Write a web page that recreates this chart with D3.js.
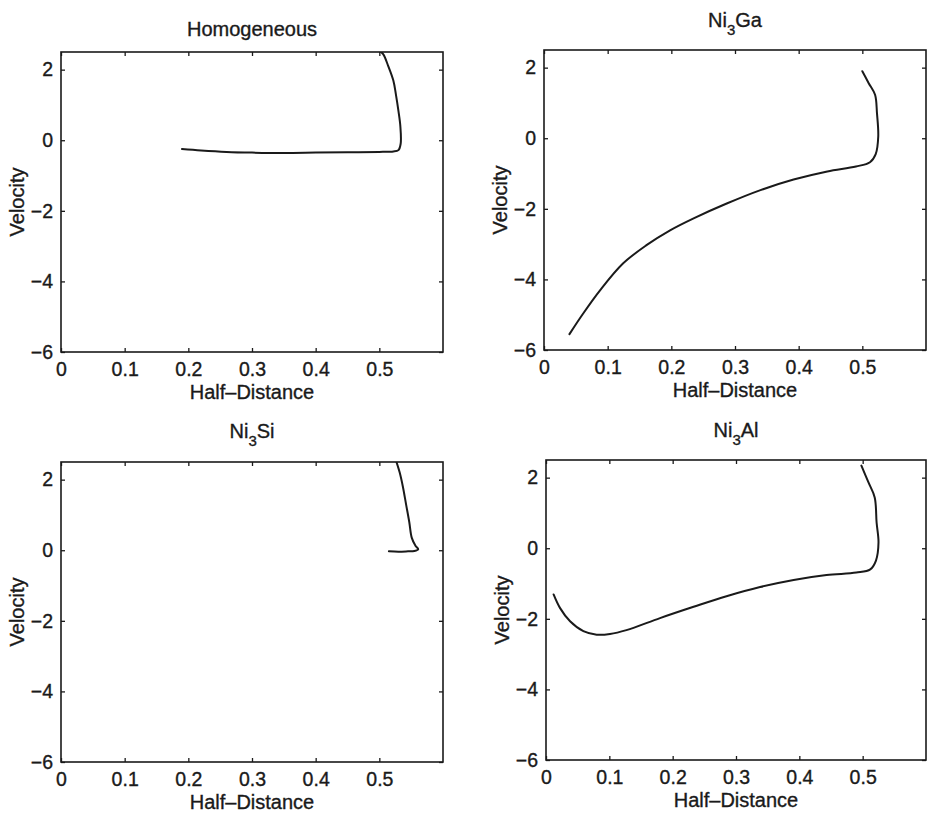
<!DOCTYPE html>
<html>
<head>
<meta charset="utf-8">
<script src="https://cdn.jsdelivr.net/npm/d3@7"></script>
<style>
  html, body { margin: 0; padding: 0; background: #fff; }
  svg { display: block; font-family: "Liberation Sans", Arial, Helvetica, sans-serif; }
</style>
</head>
<body>
<svg id="chart" width="927" height="814"></svg>
<script>
// ---------- data ----------
const xTicks = [0, 0.1, 0.2, 0.3, 0.4, 0.5];
const yTicks = [-6, -4, -2, 0, 2];
const xDomain = [0, 0.6];
const yDomain = [-6, 2.5];
const xLabel = "Half\u2013Distance";
const yLabel = "Velocity";

const homogeneousX = [0.19, 0.22, 0.26, 0.30, 0.35, 0.40, 0.45, 0.50, 0.522, 0.530, 0.5335, 0.533, 0.530, 0.526, 0.522, 0.514, 0.506, 0.499];
const homogeneousV = [-0.25, -0.29, -0.33, -0.35, -0.36, -0.35, -0.34, -0.33, -0.32, -0.28, -0.10, 0.40, 0.83, 1.30, 1.69, 2.10, 2.44, 2.55];

const ni3GaX = [0.040, 0.061, 0.088, 0.124, 0.161, 0.198, 0.235, 0.287, 0.340, 0.392, 0.445, 0.490, 0.512, 0.521, 0.525, 0.523, 0.520, 0.510, 0.500];
const ni3GaV = [-5.55, -4.98, -4.31, -3.55, -3.03, -2.61, -2.27, -1.85, -1.47, -1.17, -0.94, -0.80, -0.68, -0.45, 0.05, 0.71, 1.23, 1.56, 1.90];

const ni3SiX = [0.515, 0.530, 0.545, 0.555, 0.561, 0.557, 0.551, 0.547, 0.542, 0.537, 0.532, 0.526];
const ni3SiV = [-0.03, -0.04, -0.03, -0.02, 0.03, 0.12, 0.35, 0.80, 1.30, 1.80, 2.20, 2.55];

const ni3AlX = [0.012, 0.022, 0.038, 0.059, 0.080, 0.101, 0.127, 0.180, 0.233, 0.285, 0.338, 0.391, 0.443, 0.490, 0.512, 0.521, 0.525, 0.522, 0.519, 0.509, 0.498];
const ni3AlV = [-1.31, -1.69, -2.07, -2.35, -2.45, -2.43, -2.32, -1.98, -1.66, -1.36, -1.10, -0.90, -0.76, -0.69, -0.60, -0.35, 0.16, 0.73, 1.44, 1.87, 2.34];

// titles: [main, subscript, rest]
const titles = [
  ["Homogeneous", "", ""],
  ["Ni", "3", "Ga"],
  ["Ni", "3", "Si"],
  ["Ni", "3", "Al"]
];
const seriesX = [homogeneousX, ni3GaX, ni3SiX, ni3AlX];
const seriesV = [homogeneousV, ni3GaV, ni3SiV, ni3AlV];

// ---------- layout ----------
const layout = [
  { left: 61,  right: 443, top: 52,  bottom: 352, titleDy: 16 },
  { left: 544, right: 926, top: 50,  bottom: 350, titleDy: 23 },
  { left: 61,  right: 443, top: 462, bottom: 762, titleDy: 24 },
  { left: 546, right: 926, top: 460, bottom: 760, titleDy: 23 }
];

const svg = d3.select("#chart");
const ink = "#1a1a1a";
const tickLen = 4;
const textStroke = 0.35;

layout.forEach((L, i) => {
  const x = d3.scaleLinear().domain(xDomain).range([L.left, L.right]);
  const y = d3.scaleLinear().domain(yDomain).range([L.bottom, L.top]);
  const g = svg.append("g");
  const clipId = "clip" + i;
  svg.append("clipPath").attr("id", clipId)
    .append("rect").attr("x", L.left).attr("y", L.top)
    .attr("width", L.right - L.left).attr("height", L.bottom - L.top);

  // axes with inward ticks
  const axB = d3.axisBottom(x).tickValues(xTicks).tickSizeInner(-tickLen).tickSizeOuter(0)
    .tickPadding(10).tickFormat(d3.format("~g"));
  const axT = d3.axisTop(x).tickValues(xTicks).tickSizeInner(-tickLen).tickSizeOuter(0).tickFormat("");
  const axL = d3.axisLeft(y).tickValues(yTicks).tickSizeInner(-tickLen).tickSizeOuter(0)
    .tickPadding(8).tickFormat(d => d3.format("~g")(d).replace("-", "\u2212"));
  const axR = d3.axisRight(y).tickValues(yTicks).tickSizeInner(-tickLen).tickSizeOuter(0).tickFormat("");

  const styleAxis = sel => {
    sel.select(".domain").remove();
    sel.selectAll("line").attr("stroke", ink).attr("stroke-width", 1.3);
    sel.selectAll("text").attr("fill", ink).attr("font-size", 19.5)
      .attr("stroke", ink).attr("stroke-width", textStroke)
      .attr("font-family", "'Liberation Sans', Arial, sans-serif");
  };
  g.append("g").attr("transform", `translate(0,${L.bottom})`).call(axB).call(styleAxis);
  g.append("g").attr("transform", `translate(0,${L.top})`).call(axT).call(styleAxis);
  g.append("g").attr("transform", `translate(${L.left},0)`).call(axL).call(styleAxis);
  g.append("g").attr("transform", `translate(${L.right},0)`).call(axR).call(styleAxis);

  // frame
  g.append("rect").attr("x", L.left).attr("y", L.top)
    .attr("width", L.right - L.left).attr("height", L.bottom - L.top)
    .attr("fill", "none").attr("stroke", ink).attr("stroke-width", 1.6);

  // curve
  const pts = seriesX[i].map((d, k) => [d, seriesV[i][k]]);
  g.append("path").datum(pts)
    .attr("clip-path", `url(#${clipId})`)
    .attr("fill", "none").attr("stroke", ink).attr("stroke-width", 2)
    .attr("stroke-linejoin", "round").attr("stroke-linecap", "round")
    .attr("d", d3.line().x(d => x(d[0])).y(d => y(d[1])).curve(d3.curveCatmullRom.alpha(0.5)));

  // title
  const cx = (L.left + L.right) / 2;
  const t = g.append("text").attr("x", cx).attr("y", L.top - L.titleDy)
    .attr("text-anchor", "middle").attr("font-size", 20).attr("fill", ink)
    .attr("stroke", ink).attr("stroke-width", textStroke);
  const [a, sub, b] = titles[i];
  t.append("tspan").text(a);
  if (sub) {
    t.append("tspan").attr("dy", 8).attr("font-size", 15).text(sub);
    t.append("tspan").attr("dy", -8).text(b);
  }

  // axis labels
  g.append("text").attr("x", cx).attr("y", L.bottom + 47)
    .attr("text-anchor", "middle").attr("font-size", 20).attr("fill", ink)
    .attr("stroke", ink).attr("stroke-width", textStroke).text(xLabel);
  g.append("text")
    .attr("transform", `translate(${L.left - 37},${(L.top + L.bottom) / 2}) rotate(-90)`)
    .attr("text-anchor", "middle").attr("font-size", 20).attr("fill", ink)
    .attr("stroke", ink).attr("stroke-width", textStroke).text(yLabel);
});
</script>
</body>
</html>
